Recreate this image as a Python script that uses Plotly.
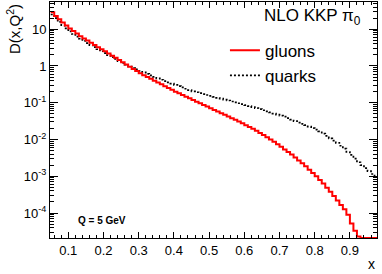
import plotly.graph_objects as go

# histogram binning (bin width 0.01, from 0.05 to 0.98)
bin_lo = 0.05
bin_w = 0.01
n_bins = 93

gluons = [28.8, 22.9, 18.6, 15.1, 12.6, 10.5, 8.91, 7.59, 6.46, 5.62,
          4.90, 4.27, 3.72, 3.24, 2.85, 2.51, 2.19, 1.91, 1.66, 1.45,
          1.26, 1.10, 0.955, 0.832, 0.724, 0.631, 0.562, 0.501, 0.447, 0.398,
          0.355, 0.316, 0.282, 0.251, 0.224, 0.200, 0.180, 0.162, 0.146, 0.132,
          0.119, 0.107, 0.0966, 0.0871, 0.0785, 0.0708, 0.0638, 0.0575, 0.0519, 0.0468,
          0.0422, 0.0380, 0.0343, 0.0309, 0.0275, 0.0245, 0.0219, 0.0195, 0.0172, 0.0151,
          0.0132, 0.0115, 0.0100, 0.00871, 0.00741, 0.00631, 0.00537, 0.00457, 0.00389, 0.00324,
          0.00269, 0.00224, 0.00186, 0.00151, 0.00123, 0.00100, 0.000794, 0.000631, 0.000490, 0.000380,
          0.000288, 0.000219, 0.000166, 0.000126, 8.9e-5, 5.2e-5, 3.3e-5, 2.3e-5, 0, 0,
          0, 0, 0]

quarks = [25.1, 20.0, 15.8, 12.9, 10.5, 8.71, 7.41, 6.31, 5.50, 4.79,
          4.17, 3.67, 3.24, 2.85, 2.51, 2.24, 1.97, 1.74, 1.55, 1.36,
          1.22, 1.08, 0.966, 0.881, 0.804, 0.733, 0.668, 0.610, 0.556, 0.507,
          0.462, 0.422, 0.389, 0.359, 0.331, 0.305, 0.282, 0.260, 0.240, 0.221,
          0.204, 0.193, 0.182, 0.172, 0.162, 0.153, 0.145, 0.136, 0.129, 0.122,
          0.115, 0.108, 0.102, 0.0966, 0.0912, 0.0861, 0.0813, 0.0759, 0.0716, 0.0668,
          0.0624, 0.0582, 0.0543, 0.0507, 0.0473, 0.0447, 0.0417, 0.0380, 0.0347, 0.0316,
          0.0288, 0.0266, 0.0245, 0.0224, 0.0204, 0.0186, 0.0166, 0.0145, 0.0126, 0.0107,
          0.00933, 0.00813, 0.00676, 0.00562, 0.00457, 0.00380, 0.00302, 0.00240, 0.00200, 0.00166,
          0.00138, 0.00115, 0.000955]

x_tick_vals = [0.1, 0.2, 0.3, 0.4, 0.5, 0.6, 0.7, 0.8, 0.9]
x_tick_text = ["0.1", "0.2", "0.3", "0.4", "0.5", "0.6", "0.7", "0.8", "0.9"]
y_tick_vals = [1e-4, 1e-3, 1e-2, 1e-1, 1, 10]
y_tick_text = ["10<sup>-4</sup>", "10<sup>-3</sup>", "10<sup>-2</sup>", "10<sup>-1</sup>", "1", "10"]

x_range = [0.048, 0.977]
y_range_log = [-4.68, 1.74]
y_floor = 10 ** y_range_log[0]

assert len(gluons) == n_bins and len(quarks) == n_bins
edges = [round(bin_lo + i * bin_w, 4) for i in range(n_bins + 1)]


def step(vals):
    v = [val if val > 0 else y_floor for val in vals]
    return edges, v + [v[-1]]


FONT = "Liberation Sans, Arial, Helvetica, sans-serif"

fig = go.Figure()
xq, yq = step(quarks)
fig.add_trace(go.Scatter(x=xq, y=yq, mode="lines", line_shape="hv", name="quarks",
                         line=dict(color="black", width=1.7, dash="2px,2px")))
xg, yg = step(gluons)
fig.add_trace(go.Scatter(x=xg, y=yg, mode="lines", line_shape="hv", name="gluons",
                         line=dict(color="#ff0000", width=2), cliponaxis=True))

axis_common = dict(showline=True, linecolor="black", linewidth=1, mirror="ticks",
                   ticks="inside", tickcolor="black", showgrid=False, zeroline=False,
                   tickfont=dict(family=FONT, size=13, color="black"))

fig.update_xaxes(range=x_range, tickvals=x_tick_vals, ticktext=x_tick_text, ticklen=6,
                 minor=dict(ticks="inside", ticklen=3, dtick=0.02, tick0=0, tickcolor="black",
                            showgrid=False),
                 **axis_common)
fig.update_yaxes(type="log", range=y_range_log, tickvals=y_tick_vals, ticktext=y_tick_text,
                 ticklen=8,
                 minor=dict(ticks="inside", ticklen=4, dtick="D1", tickcolor="black",
                            showgrid=False),
                 **axis_common)

fig.update_layout(
    width=382, height=274,
    margin=dict(l=50, r=5, t=2, b=36),
    paper_bgcolor="white", plot_bgcolor="white",
    showlegend=True,
    legend=dict(x=0.535, y=0.87, xanchor="left", yanchor="top",
                bgcolor="rgba(0,0,0,0)", traceorder="reversed",
                font=dict(family=FONT, size=17, color="black"),
                itemwidth=30, tracegroupgap=0),
    annotations=[
        dict(text="D(x,Q<sup>2</sup>)", textangle=-90, xref="paper", yref="paper",
             x=0, y=1, xanchor="center", yanchor="top", xshift=-37, yshift=0,
             showarrow=False, font=dict(family=FONT, size=15, color="black")),
        dict(text="x", xref="paper", yref="paper", x=1, y=0, xanchor="right", yanchor="middle",
             yshift=-26, xshift=0, showarrow=False,
             font=dict(family=FONT, size=14, color="black")),
        dict(text="NLO KKP π<sub>0</sub>", xref="paper", yref="paper", x=0.649, y=0.99,
             xanchor="left", yanchor="top", showarrow=False,
             font=dict(family=FONT, size=17, color="black")),
        dict(text="<b>Q = 5 GeV</b>", xref="paper", yref="paper", x=0.08, y=0.076,
             xanchor="left", yanchor="middle", showarrow=False,
             font=dict(family=FONT, size=10, color="black")),
    ],
)

fig.write_html("out.html", config={"displayModeBar": False},
               post_script="document.body.style.margin='0';document.body.style.padding='0';")
